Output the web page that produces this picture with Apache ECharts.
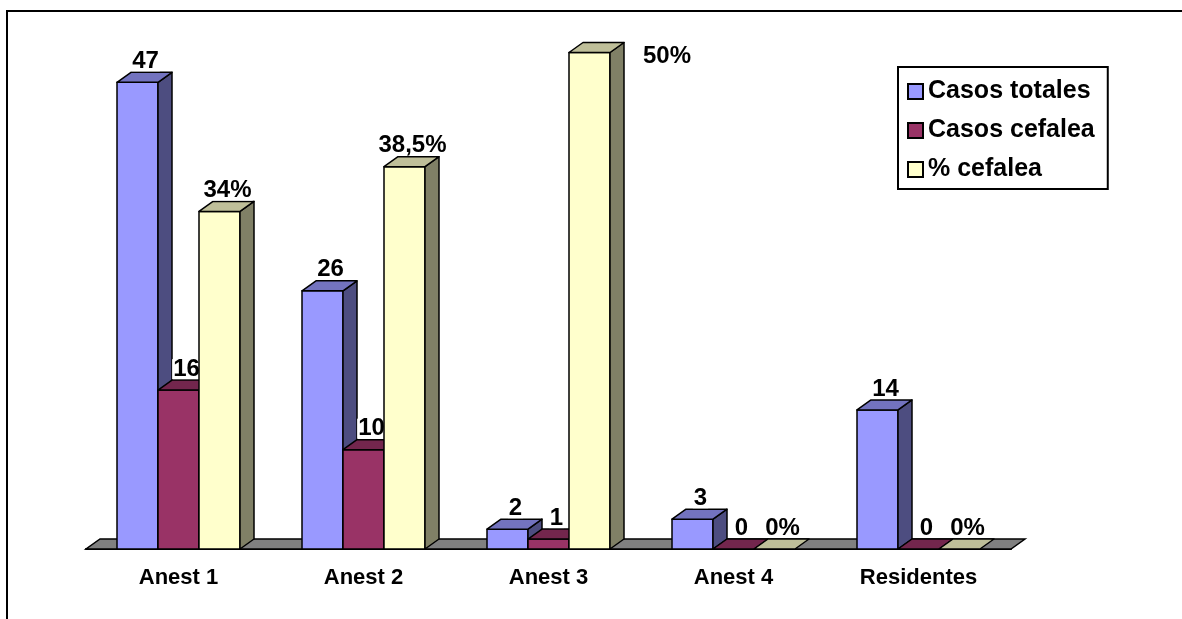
<!DOCTYPE html>
<html>
<head>
<meta charset="utf-8">
<title>Casos de cefalea por anestesista</title>
<script src="https://cdn.jsdelivr.net/npm/echarts@6/dist/echarts.min.js"></script>
<style>
    html, body { margin: 0; padding: 0; background: #fff; }
    #chart { width: 1182px; height: 619px; }
</style>
</head>
<body>
<div id="chart"></div>
<script>
// datos
var categories = ['Anest 1', 'Anest 2', 'Anest 3', 'Anest 4', 'Residentes'];
var casosTotales = [47, 26, 2, 3, 14];
var casosCefalea = [16, 10, 1, 0, 0];
var pctCefalea = [34, 38.5, 50, 0, 0];
var seriesNames = ['Casos totales', 'Casos cefalea', '% cefalea'];

var Y_MAX = 50;
var FONT = '"Liberation Sans", Arial, sans-serif';
var DX = 14, DY = 10;          // profundidad 3d
var BAR_RATIO = 41 / 185;      // ancho de barra / ancho de categoria

// colores: frente, arriba, lado
var palette = [
    ['#9999FF', '#7373BF', '#4D4D80'],
    ['#993366', '#73264D', '#4D1A33'],
    ['#FFFFCC', '#BFBF99', '#808066']
];

function fmt(v, isPct) {
    var s = String(v).replace('.', ',');
    return isPct ? s + '%' : s;
}

function makeRender(s) {
    var col = palette[s];
    var isPct = s === 2;
    return function (params, api) {
        var ci = api.value(0), v = api.value(1);
        var base = api.coord([ci, 0]);
        var top = api.coord([ci, v]);
        var bw = api.size([1, 0])[0];
        var w = bw * BAR_RATIO;
        var x0 = base[0] - 1.5 * w + s * w;
        var yb = base[1], yt = top[1];
        var stroke = {stroke: '#000', lineWidth: 1.5, lineJoin: 'round'};
        var children = [];
        if (yb - yt > 0.5) {
            children.push({
                type: 'rect',
                shape: {x: x0, y: yt, width: w, height: yb - yt},
                style: Object.assign({fill: col[0]}, stroke)
            });
            children.push({
                type: 'polygon',
                shape: {points: [[x0 + w, yt], [x0 + w + DX, yt - DY], [x0 + w + DX, yb - DY], [x0 + w, yb]]},
                style: Object.assign({fill: col[2]}, stroke)
            });
        }
        children.push({
            type: 'polygon',
            shape: {points: [[x0, yt], [x0 + w, yt], [x0 + w + DX, yt - DY], [x0 + DX, yt - DY]]},
            style: Object.assign({fill: col[1]}, stroke)
        });
        // etiqueta: a la derecha si la barra llega al maximo
        var label;
        if (v >= Y_MAX) {
            label = {x: x0 + w + DX + 18, y: yt + 4, align: 'left', verticalAlign: 'middle'};
        } else {
            label = {x: x0 + w / 2 + DX / 2 + 1, y: yt - DY - 1, align: 'center', verticalAlign: 'bottom'};
        }
        children.push({
            type: 'text',
            style: Object.assign(label, {
                text: fmt(v, isPct),
                font: 'bold 24px ' + FONT,
                lineHeight: 20,
                fill: '#000',
                backgroundColor: '#fff',
                padding: [0, 1, 0, 1]
            })
        });
        return {type: 'group', children: children};
    };
}

function toData(arr) {
    var out = [];
    for (var i = 0; i < arr.length; i++) out.push([i, arr[i]]);
    return out;
}

var chart = echarts.init(document.getElementById('chart'));

var barSeries = [casosTotales, casosCefalea, pctCefalea].map(function (arr, s) {
    return {
        type: 'custom',
        name: seriesNames[s],
        z: 3,
        itemStyle: {color: palette[s][0]},
        renderItem: makeRender(s),
        encode: {x: 0, y: 1},
        data: toData(arr)
    };
});

// suelo gris
var floorSeries = {
    type: 'custom',
    name: 'suelo',
    z: 1,
    silent: true,
    renderItem: function (params, api) {
        var c = params.coordSys;
        var yb = c.y + c.height;
        return {
            type: 'polygon',
            shape: {points: [[c.x, yb], [c.x + c.width, yb], [c.x + c.width + DX, yb - DY], [c.x + DX, yb - DY]]},
            style: {fill: '#808080', stroke: '#000', lineWidth: 1.5}
        };
    },
    data: [[0, 0]]
};

chart.setOption({
    animation: false,
    backgroundColor: '#fff',
    graphic: [{
        type: 'rect',
        z: -1,
        shape: {x: 7, y: 11, width: 1200, height: 700},
        style: {fill: 'none', stroke: '#000', lineWidth: 2}
    }],
    grid: {left: 86, right: 171, top: 52.5, bottom: 70},
    legend: {
        data: seriesNames,
        orient: 'vertical',
        left: 898,
        top: 67,
        itemWidth: 15,
        itemHeight: 15,
        itemGap: 14,
        icon: 'rect',
        padding: [12, 13, 7, 9],
        backgroundColor: '#fff',
        borderColor: '#000',
        borderWidth: 2,
        borderRadius: 0,
        itemStyle: {borderColor: '#000', borderWidth: 2},
        textStyle: {fontFamily: FONT, fontWeight: 'bold', fontSize: 25, lineHeight: 25, color: '#000'}
    },
    xAxis: {
        type: 'category',
        data: categories,
        axisLine: {lineStyle: {color: '#000', width: 2}},
        axisTick: {length: 8, lineStyle: {color: '#000', width: 2}},
        axisLabel: {fontFamily: FONT, fontWeight: 'bold', fontSize: 22, lineHeight: 22, color: '#000', margin: 18}
    },
    yAxis: {
        type: 'value',
        min: 0,
        max: Y_MAX,
        show: false,
        splitLine: {show: false}
    },
    series: [floorSeries].concat(barSeries)
});
</script>
</body>
</html>
